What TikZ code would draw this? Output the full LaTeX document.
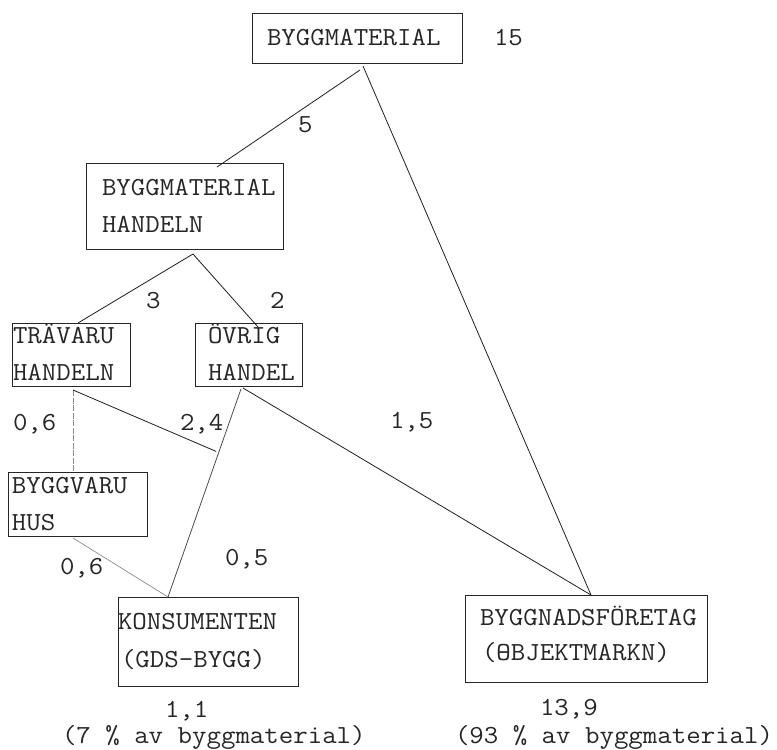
\documentclass[tikz,border=0pt]{standalone}
\usepackage{fontspec}
\setmonofont[FakeStretch=1.08]{Latin Modern Mono}
\usetikzlibrary{calc}
% overstruck O, typewriter style
\newcommand{\barO}{\rlap{O}-}
\begin{document}
\begin{tikzpicture}[x=1pt,y=-1pt,
  box/.style={draw=black!85, line width=0.9pt, inner sep=0pt, outer sep=0pt},
  txt/.style={inner sep=0pt, outer sep=0pt, anchor=base west, text=black!85,
    font=\ttfamily\fontsize{26}{26}\selectfont},
  flow/.style={draw=black!88, line width=0.8pt},
  faint/.style={draw=black!45, line width=0.7pt}]
\useasboundingbox (0,0) rectangle (777,750);
\fill[white] (0,0) rectangle (777,750);

% boxes
\node[box, minimum width=210pt, minimum height=50pt] (bm)  at (357,38) {};
\node[box, minimum width=197pt, minimum height=86pt] (bmh) at (184.5,206) {};
\node[box, minimum width=118pt, minimum height=63pt] (tv)  at (71,354.5) {};
\node[box, minimum width=107pt, minimum height=63pt] (ov)  at (248.5,354.5) {};
\node[box, minimum width=139pt, minimum height=64pt] (bv)  at (77.5,504) {};
\node[box, minimum width=180pt, minimum height=89pt] (ko)  at (208,641.5) {};
\node[box, minimum width=242pt, minimum height=87pt] (bf)  at (586,638.5) {};

% box texts
\node[txt] (bm-t)   at (267,45)  {BYGGMATERIAL};
\node[txt] (bmh-t1) at (102,195) {BYGGMATERIAL};
\node[txt] (bmh-t2) at (102,232) {HANDELN};
\node[txt] (tv-t1)  at (13,343)  {TRÄVARU};
\node[txt] (tv-t2)  at (13,380)  {HANDELN};
\node[txt] (ov-t1)  at (208,343) {ÖVRIG};
\node[txt] (ov-t2)  at (208,380) {HANDEL};
\node[txt] (bv-t1)  at (12,493)  {BYGGVARU};
\node[txt] (bv-t2)  at (12,530)  {HUS};
\node[txt] (ko-t1)  at (118,629) {KONSUMENTEN};
\node[txt] (ko-t2)  at (121,667) {(GDS-BYGG)};
\node[txt] (bf-t1)  at (480,625) {BYGGNADSFÖRETAG};
\node[txt] (bf-t2)  at (482,660) {(\barO BJEKTMARKN)};

% totals
\node[txt] (bm-n)  at (494,45)  {15};
\node[txt] (ko-n)  at (165,717) {1,1};
\node[txt] (ko-p)  at (62,743)  {(7 \% av byggmaterial)};
\node[txt] (bf-n)  at (540,715) {13,9};
\node[txt] (bf-p)  at (455,743) {(93 \% av byggmaterial)};

% flow values
\node[txt] (f5)   at (298,132) {5};
\node[txt] (f3)   at (146,308) {3};
\node[txt] (f2)   at (270,308) {2};
\node[txt] (f06a) at (13,430)  {0,6};
\node[txt] (f24)  at (180,430) {2,4};
\node[txt] (f15)  at (390,428) {1,5};
\node[txt] (f05)  at (225,565) {0,5};
\node[txt] (f06b) at (60,574)  {0,6};

% connector end points on the boxes
\coordinate (ovout) at ([xshift=46pt,yshift=-3pt]ov.south west);
\coordinate (koin)  at ([xshift=50pt]ko.north west);
\coordinate (join)  at ($(ovout)!0.3!(koin)$);

% connectors
\draw[flow] ([xshift=108pt,yshift=-7pt]bm.south west) -- ([xshift=131pt,yshift=-4pt]bmh.north west);
\draw[flow] ([xshift=111pt,yshift=-3pt]bm.south west) -- ([xshift=126pt]bf.north west);
\draw[flow] ([xshift=107pt,yshift=-5pt]bmh.south west) -- ([xshift=66pt]tv.north west);
\draw[flow] ([xshift=107pt,yshift=-5pt]bmh.south west) -- ([xshift=63pt,yshift=-4pt]ov.north west);
\draw[faint, dash pattern=on 6pt off 1.5pt] ([xshift=61pt,yshift=-4pt]tv.south west) -- ([xshift=65pt]bv.north west);
\draw[flow] ([xshift=61pt,yshift=-4pt]tv.south west) -- ([xshift=-3pt]join);
\draw[flow, draw=black!70] (ovout) -- (koin);
\draw[flow] ([xshift=48pt,yshift=-2pt]ov.south west) -- ([xshift=126pt]bf.north west);
\draw[faint] ([xshift=65pt,yshift=-2pt]bv.south west) -- (koin);
\end{tikzpicture}
\end{document}
